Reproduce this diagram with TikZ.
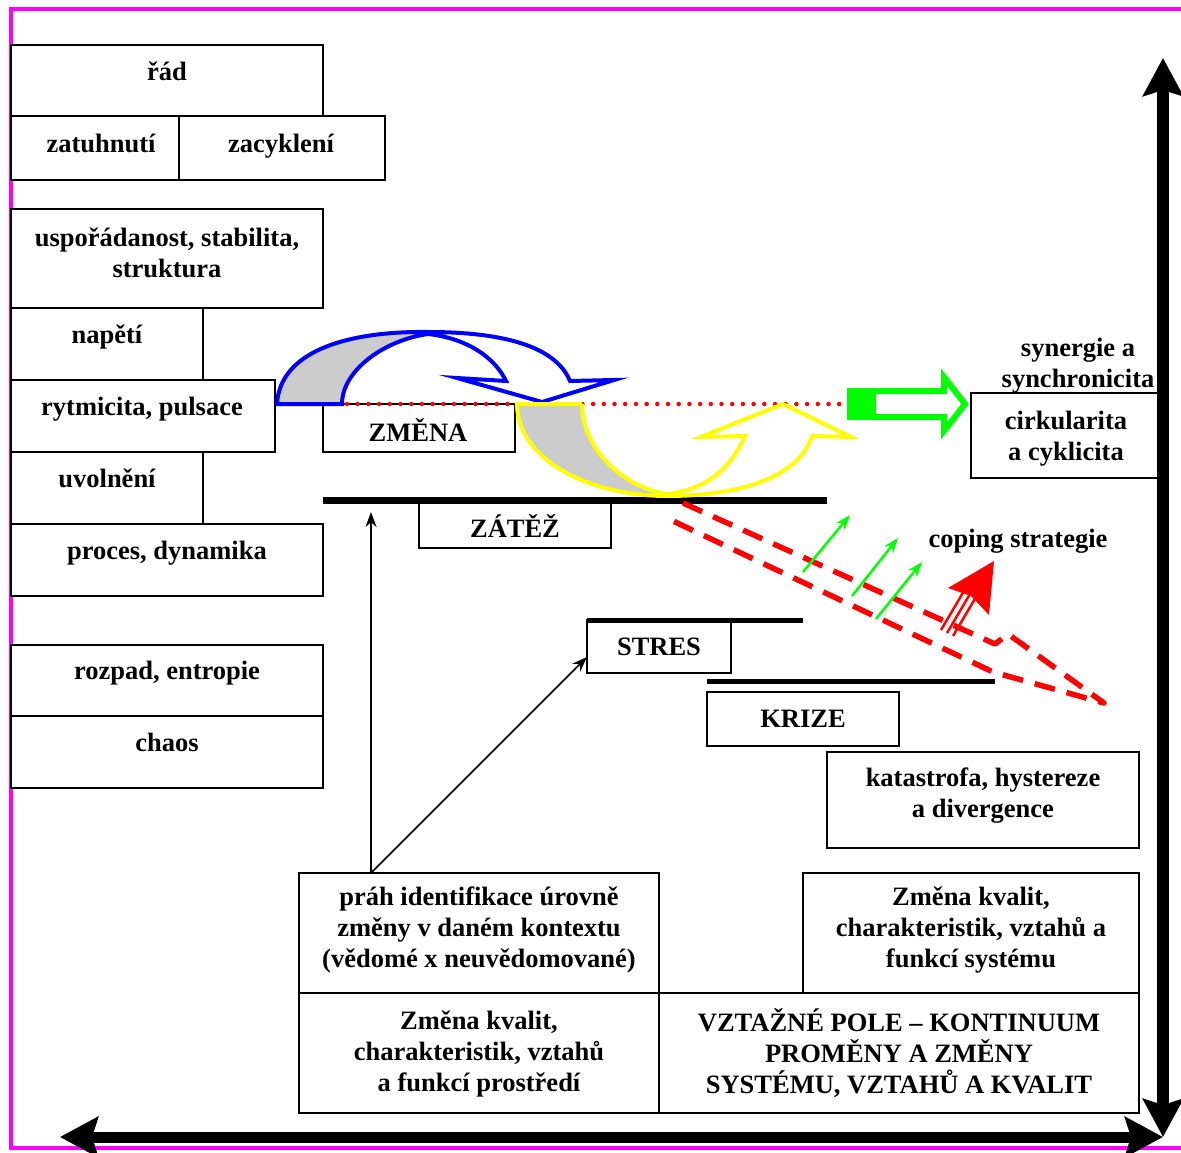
\documentclass[tikz,border=0pt]{standalone}
\usepackage{fontspec}
\setmainfont{Liberation Serif}
\usetikzlibrary{arrows.meta}
\definecolor{mag}{RGB}{255,0,255}
\definecolor{grn}{RGB}{0,255,0}
\definecolor{ylw}{RGB}{255,255,0}
\definecolor{blu}{RGB}{0,0,255}
\definecolor{rd}{RGB}{255,0,0}
\definecolor{gry}{RGB}{204,204,204}
\newcommand\mystr{\rule[-7pt]{0pt}{27pt}}
\newcommand\bx[5]{\node[box, minimum width={#4-#2}, minimum height={#5-#3}] (#1) at ({(#2+#4)/2},{(#3+#5)/2}) {};}
\begin{document}
\begin{tikzpicture}[x=1pt,y=-1pt,
  box/.style={draw=black, line width=2pt, fill=white, inner sep=0pt, rectangle},
  txt/.style={font=\fontsize{26.5}{31}\selectfont\bfseries, align=center, inner sep=0pt, anchor=north},
  bar/.style={line width=#1, black},
  thin/.style={line width=1.5pt, -{Stealth[length=15pt,width=11pt]}},
  garr/.style={line width=2.5pt, grn, -{Stealth[length=15pt,width=11pt]}},
  axis/.style={line width=#1, {Stealth[length=38pt,width=40pt,inset=6pt]}-{Stealth[length=38pt,width=40pt,inset=6pt]}}
]
\useasboundingbox (0,0) rectangle (1181,1153);
\fill[white] (0,0) rectangle (1181,1153);
% magenta frame
\draw[mag, line width=4pt] (1185,9) -- (11,9) -- (11,1148) -- (1185,1148);

% left column boxes
\bx{rad}{11}{45}{323}{116}
\bx{zat}{11}{116}{179}{180}
\bx{zac}{179}{116}{385}{180}
\bx{usp}{11}{209}{323}{308}
\bx{nap}{11}{308}{203}{380}
\bx{ryt}{11}{380}{275}{452}
\bx{uvo}{11}{452}{203}{524}
\bx{pro}{11}{524}{323}{596}
\bx{roz}{11}{645}{323}{716}
\bx{cha}{11}{716}{323}{788}
\node[txt] (tRad) at (167,60) {\mystr řád};
\node[txt] (tZat) at (101,132) {\mystr zatuhnutí};
\node[txt] (tZac) at (281,132) {\mystr zacyklení};
\node[txt] (tUsp) at (167,226) {\mystr uspořádanost, stabilita,\\\mystr struktura};
\node[txt] (tNap) at (107,323) {\mystr napětí};
\node[txt] (tRyt) at (142,395) {\mystr rytmicita, pulsace};
\node[txt] (tUvo) at (107,467) {\mystr uvolnění};
\node[txt] (tPro) at (167,539) {\mystr proces, dynamika};
\node[txt] (tRoz) at (167,659) {\mystr rozpad, entropie};
\node[txt] (tCha) at (167,731) {\mystr chaos};

% middle boxes
\bx{zmena}{323}{404}{515}{452}
\node[txt] (tZmena) at (418,418) {\mystr ZMĚNA};
\bx{zatez}{419}{500}{611}{548}
\node[txt] (tZatez) at (515,514) {\mystr ZÁTĚŽ};
\bx{stres}{587}{620}{731}{673}
\node[txt] (tStres) at (659,635) {\mystr STRES};
\bx{krize}{707}{692}{899}{746}
\node[txt] (tKrize) at (803,707) {\mystr KRIZE};
\bx{kat}{827}{752}{1139}{848}
\node[txt] (tKat) at (983,766) {\mystr katastrofa, hystereze\\\mystr a divergence};
\bx{cirk}{971}{393}{1162}{478}
\node[txt] (tCirk) at (1066,409) {\mystr cirkularita\\\mystr a cyklicita};
\node[txt] (tSyn) at (1078,336) {\mystr synergie a\\\mystr synchronicita};
\node[txt] (tCop) at (1018,527) {\mystr coping strategie};

% bottom boxes
\bx{prah}{299}{873}{659}{993}
\node[txt] (tPrah) at (479,885) {\mystr práh identifikace úrovně\\\mystr změny v daném kontextu\\\mystr (vědomé x neuvědomované)};
\bx{zsys}{803}{873}{1139}{993}
\node[txt] (tZsys) at (971,885) {\mystr Změna kvalit,\\\mystr charakteristik, vztahů a\\\mystr funkcí systému};
\bx{zpro}{299}{993}{659}{1113}
\node[txt] (tZpro) at (479,1009) {\mystr Změna kvalit,\\\mystr charakteristik, vztahů\\\mystr a funkcí prostředí};
\bx{vzt}{659}{993}{1139}{1113}
\node[txt] (tVzt) at (899,1008) {\mystr VZTAŽNÉ POLE – KONTINUUM\\\mystr PROMĚNY A ZMĚNY\\\mystr SYSTÉMU, VZTAHŮ A KVALIT};

% bars
\draw[bar=7pt] (323,500.5) -- (827,500.5);
\draw[bar=5pt] (587,620.5) -- (803,620.5);
\draw[bar=5pt] (707,681.5) -- (995,681.5);

% red dotted line
\draw[rd, line width=4.5pt, line cap=round, dash pattern=on 0pt off 10.7pt] (347,404) -- (845,404);

% blue curved arrow
\fill[gry] (277,404) .. controls (280,350) and (350,331) .. (428,332)
  .. controls (385,340) and (342,370) .. (342,404) -- cycle;
\draw[blu, line width=4pt, line join=miter]
  (277,404) .. controls (280,350) and (350,331) .. (428,332)
  .. controls (500,332) and (555,345) .. (570,381)
  -- (614,380) -- (542,402) -- (457,378) -- (506,381)
  .. controls (494,356) and (465,338) .. (428,334)
  .. controls (385,340) and (342,370) .. (342,404) -- cycle;

% yellow curved arrow
\fill[gry] (517,404) -- (582,404) .. controls (582,450) and (625,488) .. (667,494)
  .. controls (590,496) and (517,460) .. (517,404) -- cycle;
\draw[ylw, line width=4pt, line join=miter]
  (582,404) -- (517,404) .. controls (517,460) and (590,496) .. (667,496)
  .. controls (745,496) and (800,475) .. (812,436)
  -- (851,437) -- (783,404) -- (701,437) -- (745,436)
  .. controls (730,470) and (705,490) .. (667,494)
  .. controls (625,488) and (582,450) .. (582,404);

% green block arrow
\fill[grn] (847,388) rectangle (874,420);
\draw[grn, line width=6pt, fill=white, line join=miter]
  (873,391) -- (944,391) -- (944,377) -- (965,404) -- (944,431) -- (944,417) -- (873,417) -- cycle;

% red dashed shape
\draw[rd, line width=5.5pt, dash pattern=on 21pt off 12pt, line join=round]
  (683,503) -- (995,644) -- (1008,634) -- (1104,703) -- (993,672) -- (673,521);

% green small arrows
\coordinate (g1s) at (803,572); \coordinate (g1e) at (850,515);
\coordinate (g2s) at (852,596); \coordinate (g2e) at (898,538);
\coordinate (g3s) at (876,619); \coordinate (g3e) at (922,562);
\draw[garr] (g1s) -- (g1e);
\draw[garr] (g2s) -- (g2e);
\draw[garr] (g3s) -- (g3e);

% red coping arrow
\draw[rd, line width=2.5pt] (941,630) -- (964,591);
\draw[rd, line width=2.5pt] (947,633) -- (970,594);
\draw[rd, line width=2.5pt] (953,636) -- (976,597);
\fill[rd] (994,561) -- (948,588) -- (971,596) -- (989,615) -- cycle;

% thin black arrows from threshold box
\coordinate (ps) at (371,873);
\coordinate (pz) at (371,512);
\coordinate (pst) at (587,657);
\draw[thin] (ps) -- (pz);
\draw[thin] (ps) -- (pst);

% axes
\draw[axis=12pt] (1163,58) -- (1163,1137);
\draw[axis=11pt] (60,1137) -- (1163,1137);
\end{tikzpicture}
\end{document}
